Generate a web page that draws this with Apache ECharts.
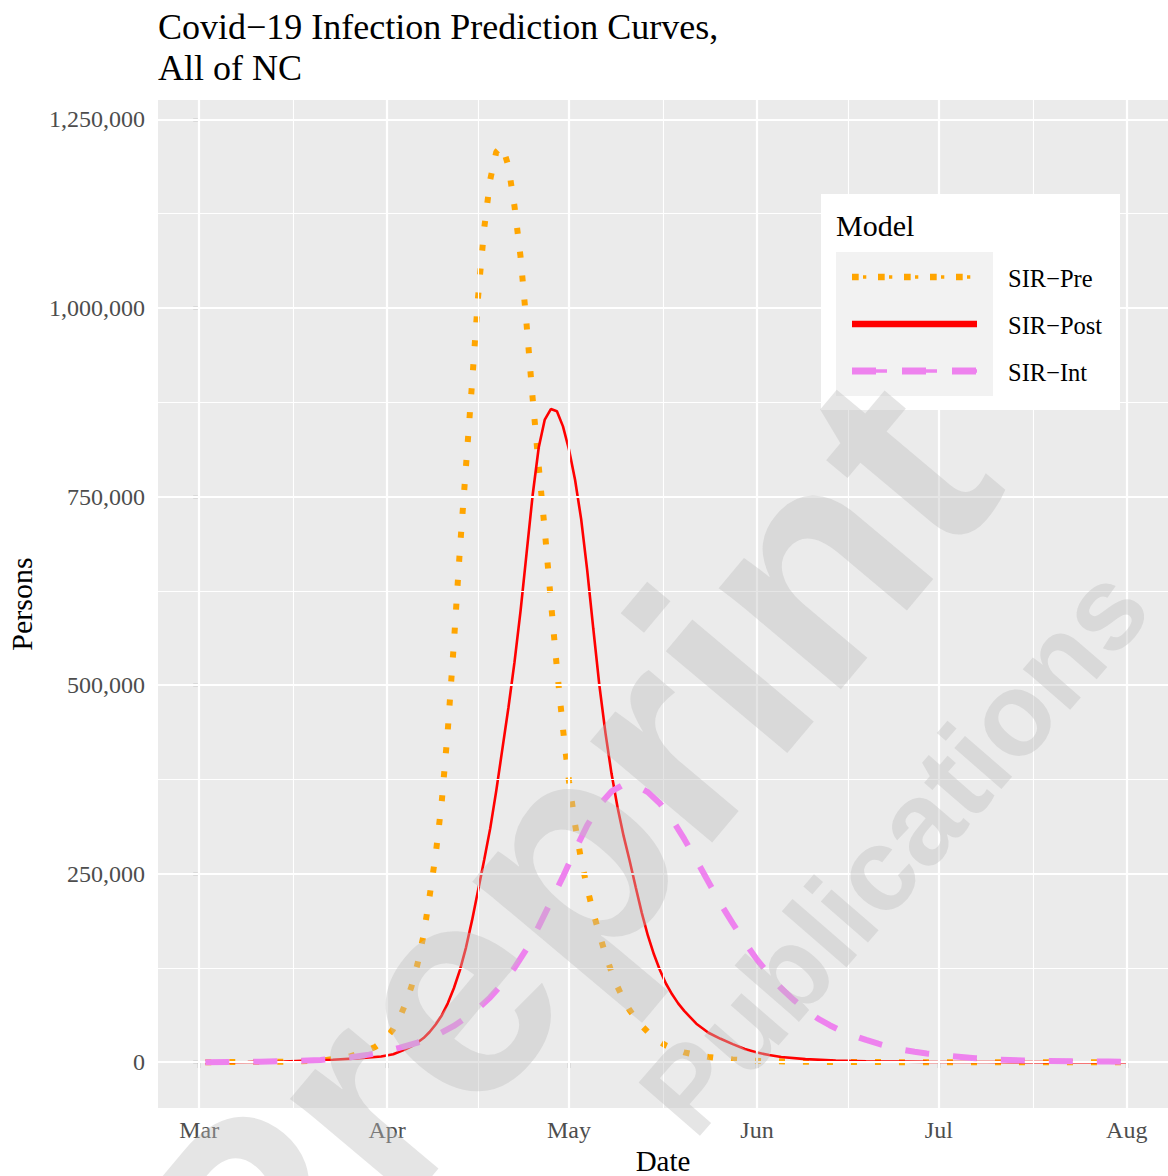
<!DOCTYPE html>
<html><head><meta charset="utf-8">
<script src="https://cdn.jsdelivr.net/npm/echarts@6/dist/echarts.min.js"></script>
<style>html,body{margin:0;padding:0;background:#fff}#chart{width:1168px;height:1176px}</style>
</head><body><div id="chart"></div>
<script>
// ---- data (day = days since 1 Mar 2020) ----
const monthTickDays = [0, 31, 61, 92, 122, 153];
const monthLabels = ['Mar', 'Apr', 'May', 'Jun', 'Jul', 'Aug'];
const xMinorDays = [15.5, 46, 76.5, 107, 137.5];
const yTicks = [0, 250000, 500000, 750000, 1000000, 1250000];
const yMinorTicks = [125000, 375000, 625000, 875000, 1125000];
const seriesNames = ['SIR\u2212Pre', 'SIR\u2212Post', 'SIR\u2212Int'];

const preDays = [1, 8, 14, 18, 21, 23, 25, 27, 29, 30, 31, 32, 33, 34, 35, 36, 37, 38, 39, 40, 41, 42, 43, 44, 45, 46, 47, 48, 49, 50, 51, 52, 53, 54, 55, 56, 57, 58, 59, 60, 61, 62, 63, 64, 65, 66, 67, 68, 69, 70, 71, 72, 73, 74, 75, 76, 77, 78, 80, 82, 84, 86, 88, 90, 94, 100, 110, 120, 135, 153];
const preValues = [0, 200, 600, 1500, 3000, 5000, 8000, 13000, 20000, 26000, 34000, 44000, 58000, 77000, 100000, 130000, 168000, 220000, 275000, 345000, 440000, 555000, 680000, 790000, 900000, 1015000, 1105000, 1170000, 1207000, 1215000, 1188000, 1135000, 1068000, 978000, 880000, 790000, 705000, 612000, 522000, 442000, 372000, 315000, 268000, 231000, 198000, 170000, 143000, 120000, 100000, 83000, 69000, 58000, 48000, 40000, 33000, 27000, 22000, 18500, 13000, 9500, 7000, 5000, 3600, 2600, 1300, 500, 120, 30, 0, 0];

const postDays = [1, 8, 14, 18, 22, 26, 28, 30, 32, 34, 35, 36, 37, 38, 39, 40, 41, 42, 43, 44, 45, 46, 47, 48, 49, 50, 51, 52, 53, 54, 55, 56, 57, 58, 59, 60, 61, 62, 63, 64, 65, 66, 67, 68, 69, 70, 71, 72, 73, 74, 75, 76, 77, 78, 79, 80, 82, 84, 86, 88, 90, 92, 94, 96, 100, 105, 110, 120, 130, 140, 153];
const postValues = [0, 300, 1000, 2000, 3200, 5000, 6200, 7500, 10500, 17000, 21000, 26000, 32000, 40000, 50000, 62000, 78000, 98000, 122000, 152000, 188000, 228000, 268000, 310000, 360000, 415000, 470000, 530000, 598000, 675000, 752000, 815000, 852000, 866000, 863000, 843000, 812000, 772000, 720000, 652000, 575000, 500000, 437000, 383000, 338000, 300000, 267000, 232000, 198000, 168000, 143000, 122000, 104000, 90000, 78000, 68000, 51000, 39000, 31000, 24000, 17500, 12800, 9500, 6800, 4000, 2300, 1300, 400, 150, 50, 0];

const intDays = [1, 6, 10, 15, 20, 25, 28, 30, 33, 36, 39, 42, 44, 46, 48, 50, 52, 54, 56, 58, 60, 62, 64, 66, 68, 70, 72, 74, 76, 78, 80, 82, 84, 86, 88, 90, 92, 94, 96, 98, 100, 102, 104, 106, 108, 110, 112, 114, 116, 118, 120, 124, 128, 132, 136, 140, 145, 150, 153];
const intValues = [0, 300, 700, 1500, 3000, 6500, 10000, 13000, 19000, 26000, 35000, 48000, 59000, 71000, 86000, 104000, 125000, 150000, 180000, 213000, 246000, 281000, 314000, 341000, 359000, 368000, 367000, 358000, 343000, 322000, 296000, 268000, 239000, 210000, 184000, 159000, 136000, 116000, 98000, 83000, 70000, 58000, 49000, 41000, 35000, 29500, 24500, 20000, 16500, 13800, 11600, 8000, 5300, 3400, 2300, 1600, 1100, 800, 600];

// ---- chart ----
const SERIF = 'Liberation Serif';
const pairs = (xs, ys) => xs.map((x, i) => [x, ys[i]]);

const gridLines = [];
yTicks.forEach(v => gridLines.push({ yAxis: v, lineStyle: { width: 2.2 } }));
yMinorTicks.forEach(v => gridLines.push({ yAxis: v, lineStyle: { width: 1.1 } }));
monthTickDays.forEach(v => gridLines.push({ xAxis: v, lineStyle: { width: 2.2 } }));
xMinorDays.forEach(v => gridLines.push({ xAxis: v, lineStyle: { width: 1.1 } }));

const chart = echarts.init(document.getElementById('chart'), null, { renderer: 'svg' });

const legendX0 = 852, legendX1 = 977;
const legendRows = [277, 324, 371];
const wmFill = 'rgba(190,190,190,0.4)';

chart.setOption({
  animation: false,
  backgroundColor: '#ffffff',
  title: {
    text: 'Covid\u221219 Infection Prediction Curves,\nAll of NC',
    left: 158, top: 6, padding: 0,
    textStyle: { fontFamily: SERIF, fontSize: 36, fontWeight: 'normal', color: '#000', lineHeight: 41 }
  },
  grid: { left: 158, right: 0, top: 100, bottom: 68, show: true, backgroundColor: '#EBEBEB', borderWidth: 0, containLabel: false, outerBoundsMode: 'none' },
  xAxis: {
    type: 'value', min: -6.8, max: 159.8,
    name: 'Date', nameLocation: 'middle', nameGap: 35,
    nameTextStyle: { fontFamily: SERIF, fontSize: 29, color: '#000' },
    splitLine: { show: false },
    axisLine: { show: true, lineStyle: { color: 'rgba(0,0,0,0)' } },
    axisTick: { show: true, customValues: monthTickDays, length: 6, lineStyle: { color: '#333333', width: 2.2 } },
    axisLabel: {
      customValues: monthTickDays, margin: 10,
      formatter: v => monthLabels[monthTickDays.indexOf(v)] || '',
      fontFamily: SERIF, fontSize: 24, color: '#4D4D4D'
    }
  },
  yAxis: {
    type: 'value', min: -60750, max: 1275750,
    name: 'Persons', nameLocation: 'middle', nameGap: 122, nameRotate: 90,
    nameTextStyle: { fontFamily: SERIF, fontSize: 30, color: '#000' },
    splitLine: { show: false },
    axisLine: { show: true, lineStyle: { color: 'rgba(0,0,0,0)' } },
    axisTick: { show: true, customValues: yTicks, length: 6, lineStyle: { color: '#333333', width: 2.2 } },
    axisLabel: {
      customValues: yTicks, margin: 13,
      formatter: v => Number(v).toLocaleString('en-US'),
      fontFamily: SERIF, fontSize: 24, color: '#4D4D4D'
    }
  },
  series: [
    {
      type: 'line', name: 'grid', data: [[0, 0]], symbol: 'none', silent: true, z: 1,
      lineStyle: { opacity: 0, width: 0 },
      markLine: {
        silent: true, symbol: ['none', 'none'], animation: false, label: { show: false },
        lineStyle: { color: '#ffffff', type: 'solid' },
        emphasis: { disabled: true },
        data: gridLines
      }
    },
    {
      type: 'line', name: seriesNames[0], data: pairs(preDays, preValues), symbol: 'none', showSymbol: false, z: 3,
      lineStyle: { color: '#FFA500', width: 6, type: [6, 18], cap: 'butt' }
    },
    {
      type: 'line', name: seriesNames[1], data: pairs(postDays, postValues), symbol: 'none', showSymbol: false, z: 4,
      lineStyle: { color: '#FF0000', width: 2.6 }
    },
    {
      type: 'line', name: seriesNames[2], data: pairs(intDays, intValues), symbol: 'none', showSymbol: false, z: 5,
      lineStyle: { color: '#EE82EE', width: 6, type: [24, 24], cap: 'butt' }
    }
  ],
  graphic: [
    // legend
    { type: 'rect', z: 100, shape: { x: 821, y: 194, width: 299, height: 216 }, style: { fill: '#ffffff' } },
    { type: 'text', z: 101, x: 836, y: 225, style: { text: 'Model', fontFamily: SERIF, fontSize: 30, fill: '#000', verticalAlign: 'middle', align: 'left' } },
    { type: 'rect', z: 101, shape: { x: 836, y: 252, width: 157, height: 144 }, style: { fill: '#F2F2F2' } },
    { type: 'line', z: 102, shape: { x1: legendX0, y1: legendRows[0], x2: legendX1, y2: legendRows[0] }, style: { stroke: '#FFA500', lineWidth: 6.7, lineDash: [6.7, 19.3] } },
    { type: 'line', z: 102, shape: { x1: 863, y1: legendRows[0], x2: legendX1, y2: legendRows[0] }, style: { stroke: '#FFA500', lineWidth: 3.3, lineDash: [3.3, 22.7] } },
    { type: 'line', z: 102, shape: { x1: legendX0, y1: legendRows[1], x2: legendX1, y2: legendRows[1] }, style: { stroke: '#FF0000', lineWidth: 6.5 } },
    { type: 'line', z: 102, shape: { x1: legendX0, y1: legendRows[2], x2: legendX1, y2: legendRows[2] }, style: { stroke: '#EE82EE', lineWidth: 7, lineDash: [24, 26] } },
    { type: 'line', z: 102, shape: { x1: legendX0, y1: legendRows[2], x2: legendX1, y2: legendRows[2] }, style: { stroke: '#EE82EE', lineWidth: 3.3, lineDash: [35, 15] } },
    { type: 'text', z: 102, x: 1008, y: legendRows[0] + 1, style: { text: seriesNames[0], fontFamily: SERIF, fontSize: 24.5, fill: '#000', verticalAlign: 'middle' } },
    { type: 'text', z: 102, x: 1008, y: legendRows[1] + 1, style: { text: seriesNames[1], fontFamily: SERIF, fontSize: 24.5, fill: '#000', verticalAlign: 'middle' } },
    { type: 'text', z: 102, x: 1008, y: legendRows[2] + 1, style: { text: seriesNames[2], fontFamily: SERIF, fontSize: 24.5, fill: '#000', verticalAlign: 'middle' } },
    // watermark
    { type: 'text', z: 200, silent: true, x: 560, y: 862, rotation: 50 * Math.PI / 180,
      style: { text: 'Preprint', fontFamily: 'Liberation Sans', fontWeight: 'bold', fontSize: 300, fill: wmFill, align: 'center', verticalAlign: 'middle' } },
    { type: 'text', z: 200, silent: true, x: 894, y: 850, rotation: 49 * Math.PI / 180,
      style: { text: 'Publications', fontFamily: 'Liberation Sans', fontWeight: 'bold', fontSize: 118, fill: wmFill, align: 'center', verticalAlign: 'middle' } }
  ]
});
</script>
</body></html>
